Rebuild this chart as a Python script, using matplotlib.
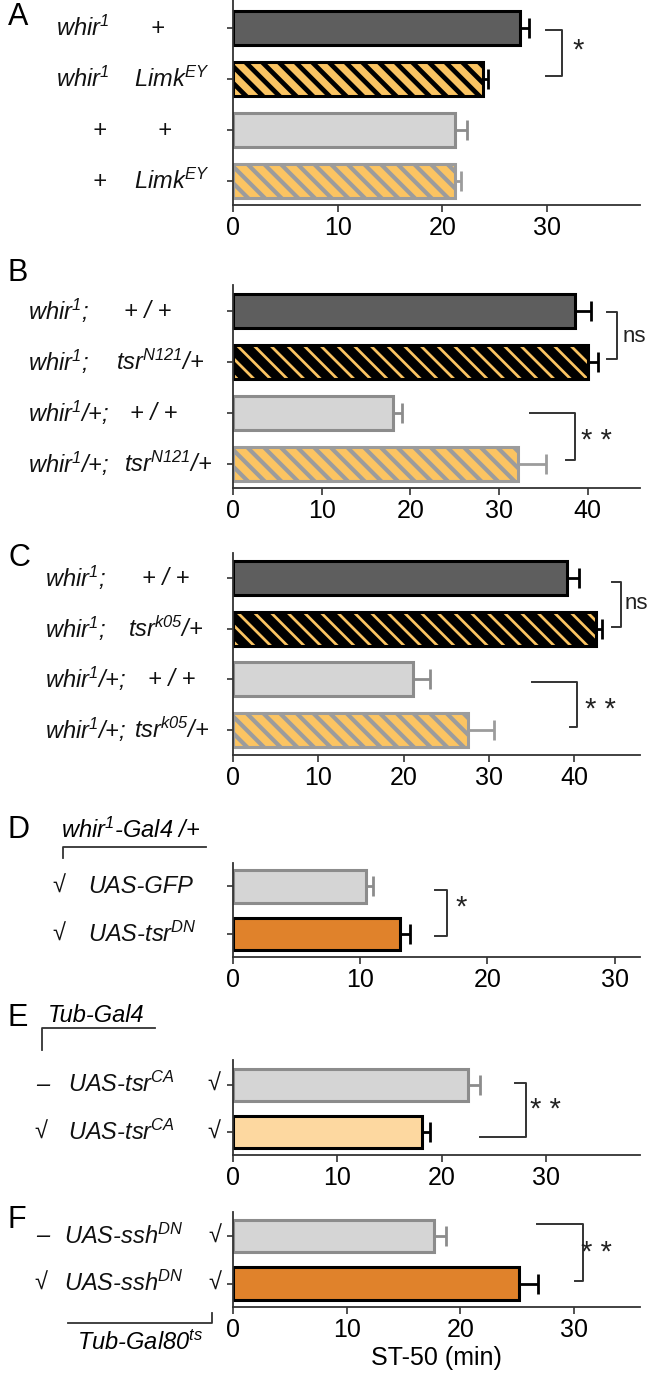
import matplotlib
matplotlib.use('Agg')
import matplotlib.pyplot as plt
from matplotlib import font_manager
from matplotlib.transforms import blended_transform_factory

# narrow sans if available, plain Liberation otherwise
try:
    font_manager.findfont('Liberation Sans Narrow', fallback_to_default=False)
    FONT = 'Liberation Sans Narrow'
except ValueError:
    FONT = 'Liberation Sans'

plt.rcParams['font.family'] = [FONT, 'DejaVu Sans']
plt.rcParams['mathtext.fontset'] = 'custom'
plt.rcParams['mathtext.rm'] = FONT + ':italic'
plt.rcParams['mathtext.it'] = FONT + ':italic'
plt.rcParams['mathtext.bf'] = FONT + ':italic:bold'

# ---- data ----
a_vals = [27.4, 23.9, 21.2, 21.2]
a_errs = [0.9, 0.5, 1.2, 0.6]
a_kinds = ['dark', 'stripe_dark', 'light', 'stripe_light']
a_labels = [['whir$^{1}$', '+'], ['whir$^{1}$', 'Limk$^{EY}$'],
            ['+', '+'], ['+', 'Limk$^{EY}$']]

b_vals = [38.6, 40.0, 18.1, 32.1]
b_errs = [1.8, 1.2, 1.0, 3.2]
b_kinds = ['dark', 'stripe_dark', 'light', 'stripe_light']
b_labels = [['whir$^{1}$;', '+ / +'], ['whir$^{1}$;', 'tsr$^{N121}$/+'],
            ['whir$^{1}$/+;', '+ / +'], ['whir$^{1}$/+;', 'tsr$^{N121}$/+']]

c_vals = [39.1, 42.5, 21.1, 27.6]
c_errs = [1.5, 0.8, 2.0, 3.0]
c_kinds = ['dark', 'stripe_dark', 'light', 'stripe_light']
c_labels = [['whir$^{1}$;', '+ / +'], ['whir$^{1}$;', 'tsr$^{k05}$/+'],
            ['whir$^{1}$/+;', '+ / +'], ['whir$^{1}$/+;', 'tsr$^{k05}$/+']]

d_vals = [10.45, 13.15]
d_errs = [0.55, 0.75]
d_kinds = ['light', 'orange']
d_labels = [['\u221a', 'UAS-GFP'], ['\u221a', 'UAS-tsr$^{DN}$']]

e_vals = [22.5, 18.1]
e_errs = [1.2, 0.8]
e_kinds = ['light', 'pale']
e_labels = [['\u2013', 'UAS-tsr$^{CA}$', '\u221a'], ['\u221a', 'UAS-tsr$^{CA}$', '\u221a']]

f_vals = [17.7, 25.15]
f_errs = [1.0, 1.65]
f_kinds = ['light', 'orange']
f_labels = [['\u2013', 'UAS-ssh$^{DN}$', '\u221a'], ['\u221a', 'UAS-ssh$^{DN}$', '\u221a']]

# ---- styles ----
STYLE = {
    'dark': ('#5e5e5e', 'black', None),
    'stripe_dark': ('#fbc462', 'black', '\\\\'),
    'light': ('#d5d5d5', '#8c8c8c', None),
    'stripe_light': ('#fbc462', '#9c9c9c', '\\\\'),
    'orange': ('#e0822b', 'black', None),
    'pale': ('#fdd8a0', 'black', None),
}
LINE = '#333333'
TXT = 17
TICK = 18

W, H = 651, 1373
fig = plt.figure(figsize=(W / 100, H / 100), dpi=100)


def fx(px):
    return px / W


def fy(py):
    return 1 - py / H


def panel(top, bottom, xmax, xticks, pad_top, pad_bottom, vals, errs, kinds, stripe_lw):
    ax = fig.add_axes([fx(233), fy(bottom), fx(640) - fx(233), (bottom - top) / H])
    n = len(vals)
    ys = list(range(n))
    for y, v, e, k in zip(ys, vals, errs, kinds):
        fc, ec, hatch = STYLE[k]
        bars = ax.barh(y, v, height=0.68, color=fc, edgecolor=ec, linewidth=2.2,
                       hatch=hatch, zorder=2)
        if hatch:
            lw = stripe_lw if ec == 'black' else 3.0
            for p in bars:
                p.set_hatch_linewidth(lw)
        ax.errorbar(v, y, xerr=[[0], [e]], fmt='none', ecolor=ec, elinewidth=2,
                    capsize=7, capthick=2, zorder=1)
    ax.set_xlim(0, xmax)
    ax.set_ylim(n - 1 + pad_bottom, -pad_top)
    ax.set_xticks(xticks)
    ax.set_yticks(ys)
    ax.set_yticklabels([])
    for s in ['top', 'right']:
        ax.spines[s].set_visible(False)
    for s in ['left', 'bottom']:
        ax.spines[s].set_color(LINE)
        ax.spines[s].set_linewidth(1.3)
    ax.tick_params(axis='x', length=5, width=1.2, color=LINE, labelsize=TICK, pad=3)
    ax.tick_params(axis='y', length=4, width=1.2, color=LINE)
    return ax


def bracket(ax, xs, ys, mark, mx, my, ha='center', size=21):
    ax.plot(xs, ys, color=LINE, lw=1.4, clip_on=False)
    ax.text(mx, my, mark, ha=ha, va='center', fontsize=size, color='#222222')


def row_labels(ax, labels, cols):
    tr = blended_transform_factory(fig.transFigure, ax.transData)
    for y, (row, pos) in enumerate(zip(labels, cols)):
        for txt, (px, ha) in zip(row, pos):
            ax.text(fx(px), y, txt, transform=tr, ha=ha, va='center',
                    fontsize=TXT, style='italic', color='#111111')


def letter(px, py, s):
    fig.text(fx(px), fy(py), s, fontsize=22, ha='left', va='center')


# A
ax = panel(0, 205, 38.9, [0, 10, 20, 30], 0.55, 0.47, a_vals, a_errs, a_kinds, 3.4)
row_labels(ax, a_labels, [[(56, 'left'), (157, 'center')], [(56, 'left'), (134, 'left')],
                          [(99, 'center'), (164, 'center')], [(99, 'center'), (134, 'left')]])
bracket(ax, [29.9, 31.4, 31.4, 29.9], [0.04, 0.04, 0.95, 0.95], '*', 33.0, 0.45)
letter(8, 17, 'A')

# B
ax = panel(285, 488, 45.9, [0, 10, 20, 30, 40], 0.51, 0.47, b_vals, b_errs, b_kinds, 6.5)
row_labels(ax, b_labels, [[(28, 'left'), (124, 'left')], [(28, 'left'), (116, 'left')],
                          [(28, 'left'), (130, 'left')], [(28, 'left'), (124, 'left')]])
bracket(ax, [42.2, 43.3, 43.3, 42.2], [0.02, 0.02, 0.95, 0.95], 'ns', 43.9, 0.5, ha='left', size=16)
bracket(ax, [33.5, 38.6, 38.6, 37.6], [2.0, 2.0, 2.92, 2.92], '* *', 41.0, 2.55)
letter(8, 273, 'B')

# C
ax = panel(553, 755, 47.7, [0, 10, 20, 30, 40], 0.5, 0.5, c_vals, c_errs, c_kinds, 6.5)
row_labels(ax, c_labels, [[(45, 'left'), (142, 'left')], [(45, 'left'), (128, 'left')],
                          [(45, 'left'), (148, 'left')], [(45, 'left'), (134, 'left')]])
bracket(ax, [44.4, 45.5, 45.5, 44.4], [0.07, 0.07, 0.97, 0.97], 'ns', 45.9, 0.5, ha='left', size=16)
bracket(ax, [35.1, 40.3, 40.3, 39.5], [2.05, 2.05, 2.95, 2.95], '* *', 43.1, 2.6)
letter(8, 558, 'C')

# D
ax = panel(863, 957, 32.0, [0, 10, 20, 30], 0.49, 0.48, d_vals, d_errs, d_kinds, 6.5)
row_labels(ax, d_labels, [[(59, 'center'), (88, 'left')]] * 2)
bracket(ax, [15.9, 16.8, 16.8, 15.9], [0.07, 0.07, 1.04, 1.04], '*', 17.9, 0.45)
letter(8, 830, 'D')
fig.text(fx(61), fy(830), 'whir$^{1}$-Gal4 /+', fontsize=TXT, style='italic', va='center')
fig.add_artist(plt.Line2D([fx(63), fx(63), fx(206)], [fy(858), fy(847), fy(847)],
                          color=LINE, lw=1.3))

# E
ax = panel(1060, 1155, 39.0, [0, 10, 20, 30], 0.52, 0.48, e_vals, e_errs, e_kinds, 6.5)
row_labels(ax, e_labels, [[(43, 'center'), (68, 'left'), (214, 'center')],
                          [(41, 'center'), (68, 'left'), (214, 'center')]])
bracket(ax, [27.0, 28.1, 28.1, 23.7], [-0.03, -0.03, 1.1, 1.1], '* *', 29.9, 0.54)
letter(8, 1018, 'E')
fig.text(fx(48), fy(1015), 'Tub-Gal4', fontsize=TXT, style='italic', va='center')
fig.add_artist(plt.Line2D([fx(42), fx(42), fx(155)], [fy(1050), fy(1028), fy(1028)],
                          color=LINE, lw=1.3))

# F
ax = panel(1212, 1307, 35.8, [0, 10, 20, 30], 0.5, 0.49, f_vals, f_errs, f_kinds, 6.5)
row_labels(ax, f_labels, [[(43, 'center'), (64, 'left'), (215, 'center')],
                          [(41, 'center'), (64, 'left'), (215, 'center')]])
bracket(ax, [26.7, 30.8, 30.8, 30.1], [-0.25, -0.25, 0.95, 0.95], '* *', 32.0, 0.36)
ax.set_xlabel('ST-50 (min)', fontsize=TICK, labelpad=3)
letter(8, 1220, 'F')
fig.add_artist(plt.Line2D([fx(68), fx(212), fx(212)], [fy(1323), fy(1323), fy(1313)],
                          color=LINE, lw=1.3))
fig.text(fx(140), fy(1343), 'Tub-Gal80$^{ts}$', fontsize=TXT, style='italic',
         ha='center', va='center')

fig.savefig('out.png', dpi=100)
